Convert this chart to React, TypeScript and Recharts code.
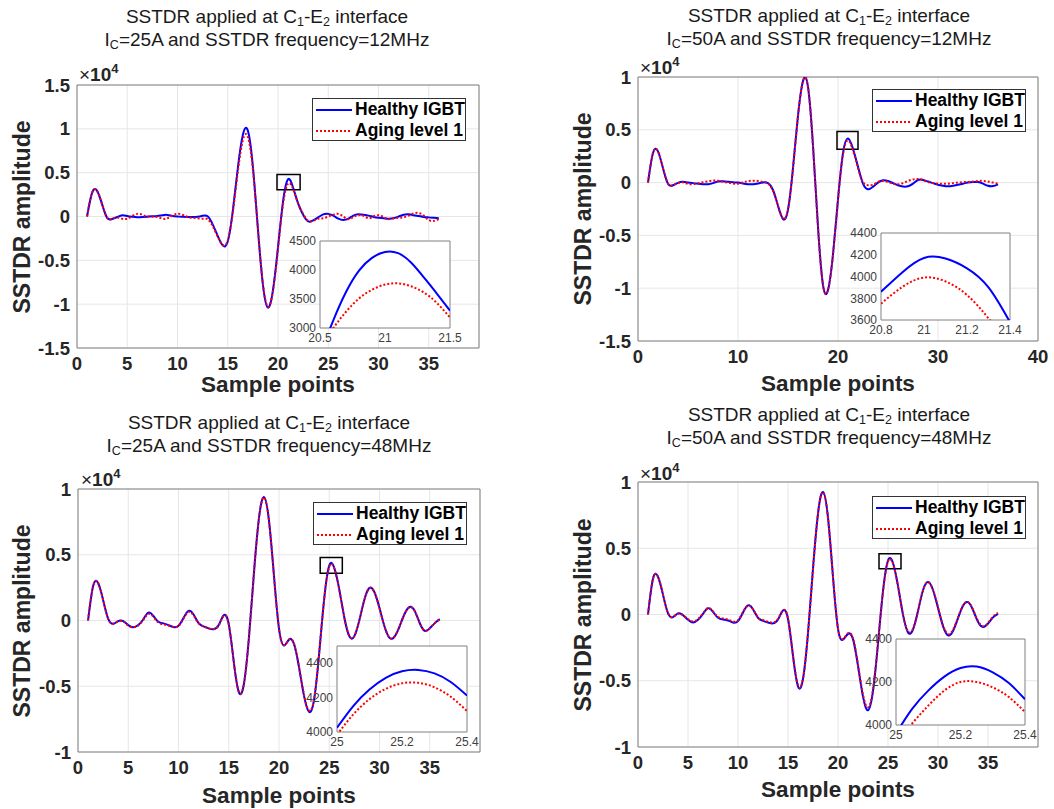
import {
  CartesianGrid,
  Legend,
  Line,
  LineChart,
  ReferenceArea,
  XAxis,
  YAxis,
} from 'recharts'

// sample axis shared by all four traces
const samplePoints = [
  1, 1.5, 2, 2.5, 3, 3.5, 4, 4.5, 5, 5.5,
  6, 6.5, 7, 7.5, 8, 8.5, 9, 9.5, 10, 10.5,
  11, 11.5, 12, 12.5, 13, 13.5, 14, 14.5, 15, 15.5,
  16, 16.5, 17, 17.5, 18, 18.5, 19, 19.5, 20, 20.5,
  21, 21.5, 22, 22.5, 23, 23.5, 24, 24.5, 25, 25.5,
  26, 26.5, 27, 27.5, 28, 28.5, 29, 29.5, 30, 30.5,
  31, 31.5, 32, 32.5, 33, 33.5, 34, 34.5, 35, 35.5,
  36,
]

// Ic = 25A, 12MHz
const healthy25A12 = [
  0, 2700, 2920, 1380, -150, -280, -60, 150, 60, -30,
  -80, -60, -20, 20, 60, 150, 180, 60, 0, -40,
  -60, -70, -40, 80, 20, -900, -2200, -3300, -2850, 600,
  5500, 9300, 9800, 5700, -1400, -7800, -10400, -8400, -3500, 1700,
  4250, 3300, 1500, 200, -550, -450, -100, 250, 300, 100,
  -250, -400, -250, 100, 250, 200, 100, -50, -150, -200,
  -250, -200, 0, 200, 250, 150, 50, -50, -100, -150,
  -200,
]
const aging25A12 = [
  0, 2700, 2920, 1380, -150, -280, -100, -250, -250, 50,
  300, 200, 0, -20, -50, -250, -200, 100, 300, 200,
  -50, -150, -200, -250, -300, -1100, -2300, -3250, -2750, 450,
  5100, 8700, 9100, 5400, -1400, -7700, -10300, -8500, -3700, 1400,
  3750, 3150, 1500, 300, -500, -500, -250, -200, 0, 200,
  300, 0, -300, -50, 150, 100, -200, 0, 150, -50,
  -300, -200, -150, -100, 100, 350, 400, 100, -400, -500,
  -300,
]

// Ic = 50A, 12MHz
const healthy50A12 = [
  0, 2800, 2950, 1350, -100, -250, -20, 80, 0, -50,
  -100, -150, -150, -50, 100, 130, 80, 30, 0, -80,
  -150, -160, -80, 20, -50, -700, -2200, -3450, -2560, 1400,
  6350, 9630, 9070, 3490, -4200, -9700, -10170, -6790, -1590, 2790,
  4170, 3200, 1500, -100, -630, -400, 0, 220, 150, -50,
  -250, -370, -350, -100, 250, 250, 100, -50, -200, -300,
  -350, -300, -200, -100, 0, 60, 50, -100, -300, -330,
  -160,
]
const aging50A12 = [
  0, 2800, 2950, 1350, -100, -250, -30, 20, -120, -140,
  -60, 30, 120, 200, 180, 80, 0, -80, -100, 20,
  140, 170, 160, 60, -100, -750, -2200, -3400, -2550, 1350,
  6300, 9600, 9050, 3480, -4200, -9700, -10150, -6800, -1650, 2650,
  3990, 3050, 1400, 50, -250, -200, 50, 160, 50, -100,
  -160, -50, 150, 300, 350, 250, 50, -50, -100, -100,
  -100, -50, 0, 50, 50, 100, 150, 160, 100, 0,
  -100,
]

// Ic = 25A, 48MHz
const healthy25A48 = [
  0, 2600, 2850, 1560, 140, -250, -50, -50, -350, -520,
  -350, 100, 600, 350, -100, -220, -350, -500, -400, 200,
  730, 450, -200, -450, -600, -670, -350, 400, -280, -3140,
  -5440, -4860, -1370, 3550, 7750, 9390, 7610, 3400, -620, -1900,
  -1450, -1800, -3590, -5770, -6950, -5980, -2470, 1670, 4170, 4000,
  2350, 230, -1200, -1190, 30, 1600, 2480, 2150, 950, -460,
  -1320, -1220, -440, 510, 1030, 730, -190, -790, -600, -200,
  100,
]
const aging25A48 = [
  0, 2600, 2850, 1560, 140, -250, -60, -80, -380, -520,
  -380, 50, 500, 280, -150, -300, -380, -500, -420, 150,
  650, 380, -220, -450, -600, -650, -380, 350, -300, -3150,
  -5400, -4850, -1380, 3530, 7730, 9350, 7590, 3390, -620, -1880,
  -1450, -1780, -3560, -5700, -6850, -5920, -2460, 1650, 4100, 3950,
  2330, 230, -1180, -1170, 30, 1580, 2460, 2130, 940, -450,
  -1300, -1200, -430, 500, 1010, 720, -180, -770, -580, -190,
  100,
]

// Ic = 50A, 48MHz
const healthy50A48 = [
  0, 2700, 2850, 1500, 100, -200, 80, -50, -400, -600,
  -400, 50, 470, 200, -250, -380, -450, -600, -500, 150,
  690, 400, -250, -480, -600, -670, -380, 300, -340, -3130,
  -5420, -4860, -1410, 3460, 7620, 9250, 7310, 2830, -1080, -1900,
  -1460, -1860, -3880, -6200, -7230, -5790, -2190, 1760, 4070, 3890,
  2160, -10, -1350, -1140, 260, 1830, 2450, 1850, 500, -880,
  -1570, -1240, -280, 660, 930, 340, -550, -940, -690, -220,
  50,
]
const aging50A48 = [
  0, 2700, 2850, 1500, 100, -180, 60, -40, -350, -520,
  -350, 80, 480, 230, -180, -300, -380, -520, -430, 180,
  670, 380, -220, -420, -550, -600, -330, 320, -300, -3080,
  -5350, -4820, -1400, 3440, 7600, 9230, 7290, 2820, -1050, -1850,
  -1420, -1800, -3780, -6050, -7000, -5650, -2130, 1720, 4000, 3820,
  2130, 0, -1250, -1060, 280, 1820, 2440, 1860, 540, -800,
  -1480, -1160, -230, 680, 940, 380, -480, -880, -640, -160,
  120,
]

// zoomed insets around the reflected peak
const inset1X = [20.5, 20.6, 20.7, 20.8, 20.9, 21, 21.1, 21.2, 21.3, 21.4, 21.5]
const inset1Healthy = [2550, 3120, 3620, 3990, 4210, 4310, 4290, 4130, 3870, 3590, 3300]
const inset1Aging = [2640, 2990, 3280, 3510, 3660, 3750, 3770, 3720, 3610, 3430, 3180]

const inset2X = [20.8, 20.9, 21, 21.1, 21.2, 21.3, 21.4]
const inset2Healthy = [3860, 4040, 4170, 4165, 4075, 3900, 3580]
const inset2Aging = [3750, 3905, 3990, 3955, 3830, 3615, 3360]

const inset3X = [25, 25.05, 25.1, 25.15, 25.2, 25.25, 25.3, 25.35, 25.4]
const inset3Healthy = [4025, 4151, 4247, 4315, 4353, 4361, 4341, 4291, 4212]
const inset3Aging = [3984, 4102, 4191, 4251, 4283, 4286, 4260, 4205, 4122]

const inset4X = [25, 25.05, 25.1, 25.15, 25.2, 25.25, 25.3, 25.35, 25.4]
const inset4Healthy = [3960, 4075, 4160, 4225, 4265, 4272, 4245, 4195, 4120]
const inset4Aging = [3920, 4007, 4090, 4160, 4200, 4200, 4175, 4130, 4060]

const ticks5 = [0, 5, 10, 15, 20, 25, 30, 35]
const ticks10 = [0, 10, 20, 30, 40]
const legendOrder = ['healthy', 'aging']

const FONT = '"Liberation Sans", Arial, Helvetica, sans-serif'
const BLUE = '#0000ff'
const RED = '#ff0000'
const DOTS = '2 2'

const YW = 60
const MT = 10
const MR = 14
const XH = 32

const IW = 40
const IT = 8
const IR = 16
const IB = 20

type Box = { left: number; top: number; width: number; height: number }

type InsetCfg = {
  box: Box
  x: number[]
  healthy: number[]
  aging: number[]
  xDomain: [number, number]
  xTicks: number[]
  yDomain: [number, number]
  yTicks: number[]
}

type PanelCfg = {
  current: string
  freq: string
  titleCx: number
  titleTop: number
  box: Box
  xTicks: number[]
  yDomain: [number, number]
  yTicks: number[]
  healthy: number[]
  aging: number[]
  zoomBox: { x1: number; x2: number; y1: number; y2: number }
  legend: { left: number; top: number }
  yLabelCx: number
  xLabelCy: number
  exp: { left: number; top: number }
  inset: InsetCfg
}

const panels: PanelCfg[] = [
  {
    current: '25A', freq: '12MHz', titleCx: 267, titleTop: 5,
    box: { left: 77, top: 85, width: 402, height: 263 },
    xTicks: ticks5, yDomain: [-15000, 15000],
    yTicks: [-15000, -10000, -5000, 0, 5000, 10000, 15000],
    healthy: healthy25A12, aging: aging25A12,
    zoomBox: { x1: 19.9, x2: 22.2, y1: 3050, y2: 4800 },
    legend: { left: 312, top: 98 }, yLabelCx: 22, xLabelCy: 385,
    exp: { left: 79, top: 64 },
    inset: {
      box: { left: 320, top: 241, width: 130, height: 87 },
      x: inset1X, healthy: inset1Healthy, aging: inset1Aging,
      xDomain: [20.5, 21.5], xTicks: [20.5, 21, 21.5],
      yDomain: [3000, 4500], yTicks: [3000, 3500, 4000, 4500],
    },
  },
  {
    current: '50A', freq: '12MHz', titleCx: 829, titleTop: 4,
    box: { left: 638, top: 77, width: 400, height: 264 },
    xTicks: ticks10, yDomain: [-15000, 10000],
    yTicks: [-15000, -10000, -5000, 0, 5000, 10000],
    healthy: healthy50A12, aging: aging50A12,
    zoomBox: { x1: 19.9, x2: 22.0, y1: 3160, y2: 4840 },
    legend: { left: 872, top: 89 }, yLabelCx: 583, xLabelCy: 384,
    exp: { left: 640, top: 57 },
    inset: {
      box: { left: 881, top: 233, width: 129, height: 87 },
      x: inset2X, healthy: inset2Healthy, aging: inset2Aging,
      xDomain: [20.8, 21.4], xTicks: [20.8, 21, 21.2, 21.4],
      yDomain: [3600, 4400], yTicks: [3600, 3800, 4000, 4200, 4400],
    },
  },
  {
    current: '25A', freq: '48MHz', titleCx: 269, titleTop: 411,
    box: { left: 78, top: 489, width: 402, height: 263 },
    xTicks: ticks5, yDomain: [-10000, 10000],
    yTicks: [-10000, -5000, 0, 5000, 10000],
    healthy: healthy25A48, aging: aging25A48,
    zoomBox: { x1: 24.1, x2: 26.3, y1: 3600, y2: 4790 },
    legend: { left: 313, top: 502 }, yLabelCx: 22, xLabelCy: 796,
    exp: { left: 81, top: 469 },
    inset: {
      box: { left: 337, top: 646, width: 130, height: 86 },
      x: inset3X, healthy: inset3Healthy, aging: inset3Aging,
      xDomain: [25, 25.4], xTicks: [25, 25.2, 25.4],
      yDomain: [4000, 4500], yTicks: [4000, 4200, 4400],
    },
  },
  {
    current: '50A', freq: '48MHz', titleCx: 829, titleTop: 403,
    box: { left: 638, top: 482, width: 400, height: 265 },
    xTicks: ticks5, yDomain: [-10000, 10000],
    yTicks: [-10000, -5000, 0, 5000, 10000],
    healthy: healthy50A48, aging: aging50A48,
    zoomBox: { x1: 24.1, x2: 26.3, y1: 3460, y2: 4590 },
    legend: { left: 872, top: 496 }, yLabelCx: 583, xLabelCy: 790,
    exp: { left: 640, top: 463 },
    inset: {
      box: { left: 896, top: 639, width: 129, height: 86 },
      x: inset4X, healthy: inset4Healthy, aging: inset4Aging,
      xDomain: [25, 25.4], xTicks: [25, 25.2, 25.4],
      yDomain: [4000, 4400], yTicks: [4000, 4200, 4400],
    },
  },
]

const mainTick = { fontSize: 18.5, fontWeight: 700, fill: '#262626' }
const insetTick = { fontSize: 12, fill: '#404040' }
const sub = { fontSize: 12.5, lineHeight: 0, verticalAlign: '-3px' } as const

function LegendBox({ payload }: any) {
  const items = [...(payload ?? [])].sort(
    (a: any, b: any) => legendOrder.indexOf(a.dataKey) - legendOrder.indexOf(b.dataKey),
  )
  return (
    <div
      style={{
        width: 154, height: 43, boxSizing: 'border-box',
        border: '1px solid #333', background: '#fff', fontFamily: FONT,
      }}
    >
      {items.map((entry: any) => (
        <div key={entry.value} style={{ display: 'flex', alignItems: 'center', height: 21, paddingLeft: 3 }}>
          <svg width={36} height={6} style={{ display: 'block' }}>
            <line
              x1={0} y1={3} x2={36} y2={3}
              stroke={entry.color}
              strokeWidth={2}
              strokeDasharray={entry.payload?.strokeDasharray}
            />
          </svg>
          <span style={{ marginLeft: 3, fontSize: 17.5, fontWeight: 700, color: '#000', whiteSpace: 'nowrap' }}>
            {entry.value}
          </span>
        </div>
      ))}
    </div>
  )
}

function Inset({ cfg }: { cfg: InsetCfg }) {
  const rows = cfg.x.map((x, i) => ({ x, healthy: cfg.healthy[i], aging: cfg.aging[i] }))
  const { box } = cfg
  return (
    <div style={{ position: 'absolute', left: box.left - IW, top: box.top - IT }}>
      <LineChart
        width={box.width + IW + IR}
        height={box.height + IT + IB}
        data={rows}
        margin={{ top: IT, right: IR, bottom: 0, left: 0 }}
      >
        <CartesianGrid horizontal={false} vertical={false} fill="#fff" fillOpacity={1} />
        <XAxis
          type="number" dataKey="x" domain={cfg.xDomain} ticks={cfg.xTicks} interval={0}
          allowDataOverflow height={IB} axisLine={false} tickLine={false}
          tickSize={0} tickMargin={5} tick={insetTick}
        />
        <YAxis
          type="number" domain={cfg.yDomain} ticks={cfg.yTicks} interval={0}
          allowDataOverflow width={IW} axisLine={false} tickLine={false}
          tickSize={0} tickMargin={4} tick={insetTick}
        />
        <ReferenceArea
          x1={cfg.xDomain[0]} x2={cfg.xDomain[1]} y1={cfg.yDomain[0]} y2={cfg.yDomain[1]}
          fill="none" fillOpacity={0} stroke="#808080" strokeWidth={1}
        />
        <Line type="natural" dataKey="healthy" stroke={BLUE} strokeWidth={2} dot={false} isAnimationActive={false} />
        <Line type="natural" dataKey="aging" stroke={RED} strokeWidth={2} strokeDasharray={DOTS} dot={false} isAnimationActive={false} />
      </LineChart>
    </div>
  )
}

function Panel({ cfg }: { cfg: PanelCfg }) {
  const rows = samplePoints.map((x, i) => ({ x, healthy: cfg.healthy[i], aging: cfg.aging[i] }))
  const { box } = cfg
  const left0 = box.left - YW
  const top0 = box.top - MT
  return (
    <>
      <div
        style={{
          position: 'absolute', left: cfg.titleCx - 250, top: cfg.titleTop, width: 500,
          textAlign: 'center', fontSize: 19, lineHeight: '23px', color: '#1a1a1a',
        }}
      >
        <div>SSTDR applied at C<sub style={sub}>1</sub>-E<sub style={sub}>2</sub> interface</div>
        <div>I<sub style={sub}>C</sub>={cfg.current} and SSTDR frequency={cfg.freq}</div>
      </div>

      <div style={{ position: 'absolute', left: left0, top: top0 }}>
        <LineChart
          width={box.width + YW + MR}
          height={box.height + MT + XH}
          data={rows}
          margin={{ top: MT, right: MR, bottom: 0, left: 0 }}
        >
          <CartesianGrid stroke="#e6e6e6" />
          <XAxis
            type="number" dataKey="x" domain={[0, 40]} ticks={cfg.xTicks} interval={0}
            allowDataOverflow height={XH} axisLine={false} tickLine={false}
            tickSize={0} tickMargin={9} tick={mainTick}
          />
          <YAxis
            type="number" domain={cfg.yDomain} ticks={cfg.yTicks} interval={0}
            allowDataOverflow width={YW} axisLine={false} tickLine={false}
            tickSize={0} tickMargin={7} tick={mainTick}
            tickFormatter={(v: number) => String(v / 10000)}
          />
          <ReferenceArea
            x1={0} x2={40} y1={cfg.yDomain[0]} y2={cfg.yDomain[1]}
            fill="none" fillOpacity={0} stroke="#808080" strokeWidth={1}
          />
          <ReferenceArea
            {...cfg.zoomBox}
            fill="none" fillOpacity={0} stroke="#000" strokeWidth={1.5}
          />
          <Line
            type="natural" dataKey="healthy" name="Healthy IGBT"
            stroke={BLUE} strokeWidth={2} dot={false} isAnimationActive={false}
          />
          <Line
            type="natural" dataKey="aging" name="Aging level 1"
            stroke={RED} strokeWidth={2} strokeDasharray={DOTS} dot={false} isAnimationActive={false}
          />
          <Legend
            layout="vertical" align="center" verticalAlign="middle"
            content={<LegendBox />}
            wrapperStyle={{ left: cfg.legend.left - left0, top: cfg.legend.top - top0, width: 154, height: 43 }}
          />
        </LineChart>
      </div>

      <div
        style={{
          position: 'absolute', left: cfg.exp.left, top: cfg.exp.top,
          fontSize: 19, fontWeight: 700, lineHeight: '22px', color: '#262626', whiteSpace: 'nowrap',
        }}
      >
        <span style={{ fontWeight: 400 }}>×</span>10<sup style={{ fontSize: 13, lineHeight: 0, verticalAlign: '8px' }}>4</sup>
      </div>

      <div
        style={{
          position: 'absolute', left: cfg.yLabelCx, top: box.top + box.height / 2,
          transform: 'translate(-50%, -50%) rotate(-90deg)', lineHeight: 1,
          fontSize: 23, fontWeight: 700, color: '#262626', whiteSpace: 'nowrap',
        }}
      >
        SSTDR amplitude
      </div>

      <div
        style={{
          position: 'absolute', left: box.left + box.width / 2, top: cfg.xLabelCy,
          transform: 'translate(-50%, -50%)', lineHeight: 1,
          fontSize: 22.5, fontWeight: 700, color: '#262626', whiteSpace: 'nowrap',
        }}
      >
        Sample points
      </div>

      <Inset cfg={cfg.inset} />
    </>
  )
}

export default function App() {
  return (
    <div
      style={{
        position: 'absolute', left: 0, top: 0, width: 1054, height: 809,
        background: '#fff', fontFamily: FONT, overflow: 'hidden',
      }}
    >
      {panels.map((p) => (
        <Panel key={p.current + p.freq} cfg={p} />
      ))}
    </div>
  )
}
